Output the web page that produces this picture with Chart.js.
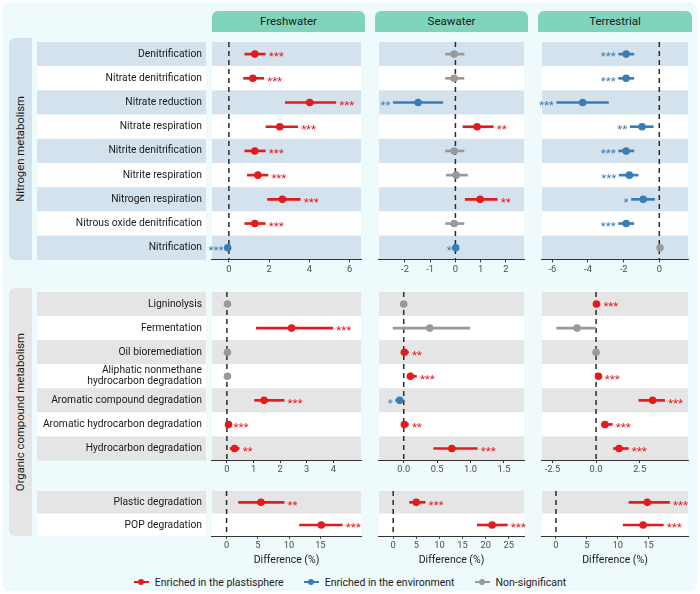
<!DOCTYPE html>
<html>
<head>
<meta charset="utf-8">
<script src="https://cdn.jsdelivr.net/npm/chart.js@4"></script>
<style>
body{margin:0;background:#fff;font-family:Roboto,sans-serif;color:#1a1a1a}
#wrap{position:relative;width:700px;height:594px;overflow:hidden}
#bg{position:absolute;left:2px;top:2px;width:695px;height:589px;border-radius:8px;background:#eefafb}
.hd{position:absolute;top:11px;height:21px;line-height:21px;text-align:center;background:#80d4bb;border-radius:6px 6px 0 0;font-size:11.5px}
.strip{position:absolute;left:9px;width:23px;border-radius:6px 0 0 6px;display:flex;align-items:center;justify-content:center}
.strip span{writing-mode:vertical-rl;transform:rotate(180deg);font-size:11.3px;white-space:nowrap}
canvas{position:absolute}
#legend{position:absolute;left:0;width:700px;top:574px;height:16px;display:flex;justify-content:center;align-items:center;font-size:10.5px}
#legend div{display:flex;align-items:center;margin:0 10px}
.sym{position:relative;width:15px;height:2px;margin-right:6px}
.sym:after{content:"";position:absolute;left:4.5px;top:-2px;width:6px;height:6px;border-radius:50%;background:inherit}
</style>
</head>
<body>
<div id="wrap"><div id="bg"></div><div id="legend"></div></div>
<script>
/* categories */
const habitats=["Freshwater","Seawater","Terrestrial"];
const groups=["Nitrogen metabolism","Organic compound metabolism"];
const nitroCats=["Denitrification","Nitrate denitrification","Nitrate reduction","Nitrate respiration","Nitrite denitrification","Nitrite respiration","Nitrogen respiration","Nitrous oxide denitrification","Nitrification"];
const organicCats=["Ligninolysis","Fermentation","Oil bioremediation",["Aliphatic nonmethane","hydrocarbon degradation"],"Aromatic compound degradation","Aromatic hydrocarbon degradation","Hydrocarbon degradation"];
const plasticCats=["Plastic degradation","POP degradation"];
const legendLabels=["Enriched in the plastisphere","Enriched in the environment","Non-significant"];

/* P = plastisphere, E = environment, N = non-significant */
const fwNitroMean=[1.29,1.19,4.02,2.53,1.29,1.44,2.66,1.29,-0.06];
const fwNitroLo=[0.79,0.73,2.81,1.84,0.79,0.92,1.92,0.79,-0.12];
const fwNitroHi=[1.81,1.73,5.32,3.42,1.81,1.94,3.55,1.81,0.0];
const fwNitroSig=[3,3,3,3,3,3,3,3,3];
const fwNitroDir=["P","P","P","P","P","P","P","P","E"];

const swNitroMean=[-0.05,-0.05,-1.48,0.86,-0.05,0.03,0.98,-0.05,0.01];
const swNitroLo=[-0.39,-0.39,-2.46,0.30,-0.39,-0.36,0.39,-0.39,-0.03];
const swNitroHi=[0.34,0.34,-0.50,1.50,0.34,0.48,1.66,0.34,0.05];
const swNitroSig=[0,0,2,2,0,0,2,0,1];
const swNitroDir=["N","N","E","P","N","N","P","N","E"];

const teNitroMean=[-1.86,-1.86,-4.30,-0.97,-1.86,-1.68,-0.90,-1.86,0.04];
const teNitroLo=[-2.28,-2.28,-5.75,-1.63,-2.28,-2.25,-1.56,-2.28,0.0];
const teNitroHi=[-1.43,-1.43,-2.85,-0.34,-1.43,-1.19,-0.27,-1.43,0.08];
const teNitroSig=[3,3,3,2,3,3,1,3,0];
const teNitroDir=["E","E","E","E","E","E","E","E","N"];

const fwOrgMean=[0.02,2.43,0.02,0.02,1.40,0.06,0.29];
const fwOrgLo=[0.0,1.11,0.0,0.0,1.04,0.0,0.12];
const fwOrgHi=[0.04,3.98,0.04,0.04,2.15,0.12,0.46];
const fwOrgSig=[0,3,0,0,3,3,2];
const fwOrgDir=["N","P","N","N","P","P","P"];

const swOrgMean=[0.0,0.39,0.01,0.10,-0.06,0.01,0.72];
const swOrgLo=[-0.01,-0.16,-0.02,0.06,-0.12,-0.02,0.45];
const swOrgHi=[0.01,0.99,0.07,0.19,0.0,0.07,1.10];
const swOrgSig=[0,0,2,3,1,2,3];
const swOrgDir=["N","N","P","P","E","P","P"];

const teOrgMean=[0.02,-1.09,0.0,0.14,3.24,0.51,1.32];
const teOrgLo=[-0.05,-2.26,-0.03,0.05,2.45,0.31,1.0];
const teOrgHi=[0.22,0.0,0.03,0.30,3.93,0.93,1.85];
const teOrgSig=[3,0,0,3,3,3,3];
const teOrgDir=["P","N","N","P","P","P","P"];

const fwPlaMean=[5.5,15.15], fwPlaLo=[1.92,11.68], fwPlaHi=[9.2,18.5], fwPlaSig=[2,3], fwPlaDir=["P","P"];
const swPlaMean=[4.99,21.4], swPlaLo=[3.55,18.2], swPlaHi=[6.9,24.7], swPlaSig=[3,3], swPlaDir=["P","P"];
const tePlaMean=[14.8,14.13], tePlaLo=[11.84,10.9], tePlaHi=[18.4,17.4], tePlaSig=[3,3], tePlaDir=["P","P"];

/* tick labels */
const fwNitroTicks=["0","2","4","6"], swNitroTicks=["-2","-1","0","1","2"], teNitroTicks=["-6","-4","-2","0"];
const fwOrgTicks=["0","1","2","3","4"], swOrgTicks=["0.0","0.5","1.0","1.5"], teOrgTicks=["-2.5","0.0","2.5"];
const fwPlaTicks=["0","5","10","15"], swPlaTicks=["0","5","10","15","20","25"], tePlaTicks=["0","5","10","15"];

const COLORS={P:"#e41a1c",E:"#377eb8",N:"#999999"};
const ROW_H=24.65;

/* layout */
const cols=[{left:212,width:153},{left:375,width:153},{left:538,width:154}];
const sections=[
{top:38,cats:nitroCats,band:"#d3e2ec",h:244},
{top:288,cats:organicCats,band:"#e5e5e5",h:194},
{top:487,cats:plasticCats,band:"#e5e5e5",h:82,title:true}
];
const panels=[
{s:0,c:0,mean:fwNitroMean,lo:fwNitroLo,hi:fwNitroHi,sig:fwNitroSig,dir:fwNitroDir,ticks:fwNitroTicks,min:-0.84,max:6.57},
{s:0,c:1,mean:swNitroMean,lo:swNitroLo,hi:swNitroHi,sig:swNitroSig,dir:swNitroDir,ticks:swNitroTicks,min:-3.03,max:2.72},
{s:0,c:2,mean:teNitroMean,lo:teNitroLo,hi:teNitroHi,sig:teNitroSig,dir:teNitroDir,ticks:teNitroTicks,min:-6.58,max:1.61},
{s:1,c:0,mean:fwOrgMean,lo:fwOrgLo,hi:fwOrgHi,sig:fwOrgSig,dir:fwOrgDir,ticks:fwOrgTicks,min:-0.56,max:5.04},
{s:1,c:1,mean:swOrgMean,lo:swOrgLo,hi:swOrgHi,sig:swOrgSig,dir:swOrgDir,ticks:swOrgTicks,min:-0.37,max:1.80},
{s:1,c:2,mean:teOrgMean,lo:teOrgLo,hi:teOrgHi,sig:teOrgSig,dir:teOrgDir,ticks:teOrgTicks,min:-3.10,max:5.27},
{s:2,c:0,mean:fwPlaMean,lo:fwPlaLo,hi:fwPlaHi,sig:fwPlaSig,dir:fwPlaDir,ticks:fwPlaTicks,min:-2.33,max:21.5},
{s:2,c:1,mean:swPlaMean,lo:swPlaLo,hi:swPlaHi,sig:swPlaSig,dir:swPlaDir,ticks:swPlaTicks,min:-3.07,max:28.3},
{s:2,c:2,mean:tePlaMean,lo:tePlaLo,hi:tePlaHi,sig:tePlaSig,dir:tePlaDir,ticks:tePlaTicks,min:-2.26,max:21.4}
];

const wrap=document.getElementById("wrap");

/* HEADERS + STRIPS */
habitats.forEach((h,i)=>{
let d=document.createElement("div");
d.className="hd";d.style.left=cols[i].left+"px";d.style.width=cols[i].width+"px";
d.innerText=h;wrap.appendChild(d);
});
[[38,222,"#d3e2ec"],[288,248,"#e5e5e5"]].forEach((s,i)=>{
let d=document.createElement("div");
d.className="strip";d.style.top=s[0]+"px";d.style.height=s[1]+"px";d.style.background=s[2];
d.innerHTML="<span>"+groups[i]+"</span>";wrap.appendChild(d);
});

/* LEGEND */
const lg=document.getElementById("legend");
["P","E","N"].forEach((k,i)=>{
lg.innerHTML+='<div><span class="sym" style="background:'+COLORS[k]+'"></span>'+legendLabels[i]+'</div>';
});

/* CHARTS */
function makeChart(p){
const sec=sections[p.s], col=cols[p.c];
const withLabels=p.c===0;
const left=withLabels?37:col.left;
const w=col.left+col.width-left;
const cv=document.createElement("canvas");
cv.width=w;cv.height=sec.h;
cv.style.width=w+"px";cv.style.height=sec.h+"px";
cv.style.left=left+"px";cv.style.top=sec.top+"px";
wrap.appendChild(cv);
const colr=p.dir.map(d=>COLORS[d]);

const bands={id:"bands",beforeDraw(ch){
const {ctx,chartArea:a,scales:{y}}=ch;
const half=(y.getPixelForValue(1)-y.getPixelForValue(0))/2;
sec.cats.forEach((c,i)=>{
const yc=y.getPixelForValue(i);
ctx.fillStyle=i%2===0?sec.band:"#ffffff";
ctx.fillRect(a.left,yc-half,a.right-a.left,2*half);
if(withLabels) ctx.fillRect(0,yc-half,a.left-6,2*half);
});
}};

const zero={id:"zero",beforeDatasetsDraw(ch){
const {ctx,chartArea:a,scales:{x}}=ch;
const px=x.getPixelForValue(0);
ctx.save();ctx.strokeStyle="#2b2b2b";ctx.lineWidth=1.5;ctx.setLineDash([5,4]);
ctx.beginPath();ctx.moveTo(px,a.top);ctx.lineTo(px,a.bottom);ctx.stroke();ctx.restore();
}};

const stars={id:"stars",afterDatasetsDraw(ch){
const {ctx,scales:{x,y}}=ch;
ctx.save();ctx.font="11.5px Roboto";ctx.textBaseline="middle";
p.sig.forEach((k,i)=>{
if(!k) return;
const yc=y.getPixelForValue(i)+3.5;
ctx.fillStyle=COLORS[p.dir[i]];
if(p.dir[i]==="E"){ctx.textAlign="right";ctx.fillText("*".repeat(k),x.getPixelForValue(p.lo[i])-3,yc);}
else{ctx.textAlign="left";ctx.fillText("*".repeat(k),x.getPixelForValue(p.hi[i])+3.5,yc);}
});
ctx.restore();
}};

new Chart(cv,{
type:"bar",
data:{labels:sec.cats,datasets:[
{type:"scatter",data:p.mean.map((v,i)=>({x:v,y:sec.cats[i]})),pointBackgroundColor:colr,backgroundColor:colr,pointRadius:3.8,pointBorderWidth:0,clip:false},
{type:"bar",data:p.lo.map((v,i)=>[v,p.hi[i]]),backgroundColor:colr,barThickness:2,borderWidth:0,clip:false}
]},
options:{
indexAxis:"y",responsive:false,animation:false,events:[],
plugins:{legend:{display:false},tooltip:{enabled:false}},
layout:{padding:0},
scales:{
x:{type:"linear",min:p.min,max:p.max,
afterBuildTicks:s=>{s.ticks=p.ticks.map(t=>({value:parseFloat(t)}));},
afterFit:s=>{s.height=sec.h-sec.cats.length*ROW_H;s.paddingLeft=0;s.paddingRight=0;},
ticks:{callback:(v,i)=>p.ticks[i],color:"#4d4d4d",font:{family:"Roboto",size:9.3},padding:1.5,maxRotation:0,autoSkip:false},
grid:{drawOnChartArea:false,drawTicks:true,tickLength:2.5,color:"#333333",lineWidth:1},
border:{display:true,color:"#333333",width:1.1},
title:{display:!!sec.title,text:"Difference (%)",color:"#1a1a1a",font:{family:"Roboto",size:10.5},padding:{top:0,bottom:2}}
},
y:{type:"category",offset:true,display:withLabels,
afterFit:s=>{if(withLabels) s.width=175;s.paddingTop=0;s.paddingBottom=0;},
ticks:{color:"#1a1a1a",font:{family:"Roboto",size:10.3,lineHeight:1.05},padding:10,autoSkip:false},
grid:{display:false,drawTicks:false},border:{display:false}
}
}
},
plugins:[bands,zero,stars]
});
}

panels.forEach(makeChart);
</script>
</body>
</html>
